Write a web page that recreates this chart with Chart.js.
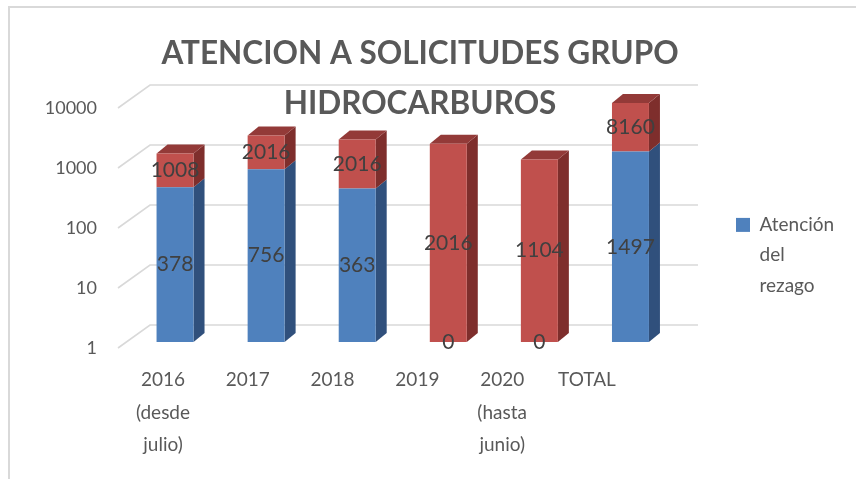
<!DOCTYPE html>
<html lang="es">
<head>
<meta charset="utf-8">
<title>Atención a solicitudes grupo hidrocarburos</title>
<script src="https://cdn.jsdelivr.net/npm/chart.js@4.4.1/dist/chart.umd.min.js"></script>
<style>
  html, body { margin: 0; padding: 0; background: #fff; }
  #wrap { position: relative; width: 856px; height: 479px; }
  #marco {
    position: absolute; left: 8px; top: 6px; right: 0; bottom: 0;
    border-top: 2px solid #d9d9d9; border-left: 2px solid #d9d9d9;
    pointer-events: none;
  }
</style>
</head>
<body>
<div id="wrap">
  <canvas id="grafica"></canvas>
  <div id="marco"></div>
</div>
<script>
const categorias = [['2016', '(desde', 'julio)'], '2017', '2018', '2019', ['2020', '(hasta', 'junio)'], 'TOTAL'];
const rezago = [378, 756, 363, 0, 0, 1497];
const periodo = [1008, 2016, 2016, 2016, 1104, 8160];
const marcasY = [1, 10, 100, 1000, 10000];
const titulo = ['ATENCION A SOLICITUDES GRUPO', 'HIDROCARBUROS'];

const FUENTE = 'Lato, "Liberation Sans", sans-serif';
const GRIS = '#595959';

// caras laterales y superiores de las barras (efecto 3D)
const fondo = { dx: 11, dy: -9 };
const colorLado = ['#30507c', '#7e2e2c'];
const colorTapa = ['#3f6aa0', '#933a38'];

// rejilla en la pared del fondo, unida al eje con diagonales
const paredFondo = {
  id: 'paredFondo',
  beforeDatasetsDraw(chart) {
    const { ctx, chartArea: a } = chart;
    const y = chart.scales.y;
    ctx.save();
    ctx.strokeStyle = '#d9d9d9';
    ctx.lineWidth = 1.6;
    y.ticks.forEach(t => {
      const py = y.getPixelForValue(t.value);
      ctx.beginPath();
      ctx.moveTo(a.left - 11.5, py + 6);
      ctx.lineTo(a.left + 20.5, py - 17);
      ctx.lineTo(a.right + 22, py - 17);
      ctx.stroke();
    });
    ctx.restore();
  }
};

const barras3d = {
  id: 'barras3d',
  beforeDatasetsDraw(chart) {
    const { ctx } = chart;
    const metas = chart.getSortedVisibleDatasetMetas();
    ctx.save();
    chart.data.labels.forEach((_, i) => {
      let tapa = null;
      metas.forEach(meta => {
        const b = meta.data[i].getProps(['x', 'y', 'base', 'width'], true);
        if (Math.abs(b.base - b.y) < 0.5) return;
        const der = b.x + b.width / 2;
        ctx.fillStyle = colorLado[meta.index];
        ctx.beginPath();
        ctx.moveTo(der, b.y);
        ctx.lineTo(der + fondo.dx, b.y + fondo.dy);
        ctx.lineTo(der + fondo.dx, b.base + fondo.dy);
        ctx.lineTo(der, b.base);
        ctx.closePath();
        ctx.fill();
        if (!tapa || b.y < tapa.y) tapa = { ...b, idx: meta.index };
      });
      if (tapa) {
        const izq = tapa.x - tapa.width / 2, der = tapa.x + tapa.width / 2;
        ctx.fillStyle = colorTapa[tapa.idx];
        ctx.beginPath();
        ctx.moveTo(izq, tapa.y);
        ctx.lineTo(izq + fondo.dx, tapa.y + fondo.dy);
        ctx.lineTo(der + fondo.dx, tapa.y + fondo.dy);
        ctx.lineTo(der, tapa.y);
        ctx.closePath();
        ctx.fill();
      }
    });
    ctx.restore();
  }
};

// valores centrados en cada tramo
const etiquetas = {
  id: 'etiquetas',
  afterDatasetsDraw(chart) {
    const { ctx } = chart;
    ctx.save();
    ctx.font = '21px ' + FUENTE;
    ctx.fillStyle = '#404040';
    ctx.textAlign = 'center';
    ctx.textBaseline = 'middle';
    chart.getSortedVisibleDatasetMetas().forEach(meta => {
      const datos = chart.data.datasets[meta.index].data;
      meta.data.forEach((bar, i) => {
        const b = bar.getProps(['x', 'y', 'base'], true);
        ctx.fillText(String(datos[i]), b.x, (b.y + b.base) / 2);
      });
    });
    ctx.restore();
  }
};

const tituloPlugin = {
  id: 'tituloSuperpuesto',
  afterDraw(chart) {
    const { ctx } = chart;
    ctx.save();
    ctx.font = 'bold 31.5px ' + FUENTE;
    ctx.fillStyle = GRIS;
    ctx.textAlign = 'center';
    ctx.textBaseline = 'middle';
    ctx.fillText(titulo[0], 420, 54);
    ctx.fillText(titulo[1], 420, 104);
    ctx.restore();
  }
};

new Chart(document.getElementById('grafica'), {
  type: 'bar',
  data: {
    labels: categorias,
    datasets: [
      { label: 'Atención del rezago', data: rezago, backgroundColor: '#4f81bd' },
      { label: 'Solicitudes del periodo', data: periodo, backgroundColor: '#c0504d' }
    ]
  },
  options: {
    responsive: true,
    maintainAspectRatio: false,
    animation: false,
    barPercentage: 0.406,
    categoryPercentage: 1,
    layout: { padding: { left: 42, top: 102, right: 20, bottom: 0 } },
    scales: {
      x: { stacked: true, display: false },
      // eje propio para los rótulos de categoría (algo más juntos que las barras)
      xl: {
        type: 'linear',
        position: 'bottom',
        offset: false,
        min: -0.395,
        max: 6.05,
        afterBuildTicks: ax => {
          ax.ticks = categorias.map((_, i) => ({ value: i }));
          ax.min = -0.395;
          ax.max = 6.05;
        },
        afterFit: ax => { ax.height = 137; },
        grid: { display: false, drawTicks: false },
        border: { display: false },
        ticks: {
          autoSkip: false,
          maxRotation: 0,
          padding: 22,
          color: GRIS,
          font: { family: FUENTE, size: 19, lineHeight: 1.7 },
          callback: v => categorias[v]
        }
      },
      y: {
        type: 'logarithmic',
        stacked: true,
        min: 1,
        max: 10000,
        afterBuildTicks: ax => { ax.ticks = marcasY.map(v => ({ value: v })); },
        afterFit: ax => { ax.width = 87.5; },
        grid: { display: false, drawTicks: false },
        border: { display: false },
        ticks: {
          padding: 32.5,
          labelOffset: 6,
          color: GRIS,
          font: { family: FUENTE, size: 18 },
          callback: v => String(v)
        }
      }
    },
    plugins: {
      tooltip: { enabled: false },
      legend: {
        position: 'right',
        fullSize: false,
        align: 'start',
        maxWidth: 160,
        title: { display: true, text: '', padding: { top: 39, bottom: 0 } },
        labels: {
          padding: 60,
          boxWidth: 14,
          boxHeight: 14,
          color: GRIS,
          font: { family: FUENTE, size: 19, lineHeight: 1.6 },
          generateLabels(chart) {
            return Chart.defaults.plugins.legend.labels.generateLabels(chart)
              .filter(it => it.datasetIndex === 0)
              .map(it => ({ ...it, text: it.text.split(' ') }));
          }
        }
      }
    }
  },
  plugins: [paredFondo, barras3d, etiquetas, tituloPlugin]
});
</script>
</body>
</html>
